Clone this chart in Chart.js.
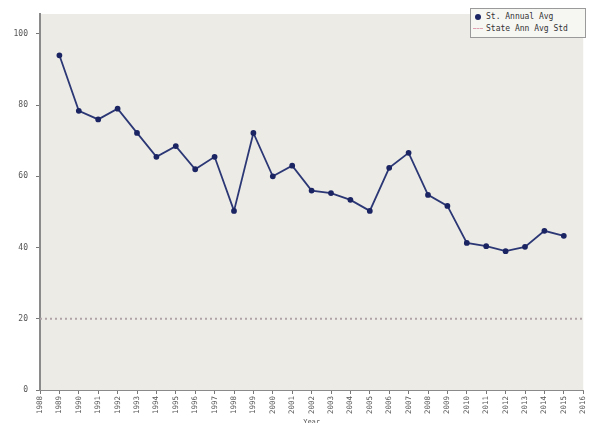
<!DOCTYPE html>
<html>
<head>
<meta charset="utf-8">
<script src="https://cdn.jsdelivr.net/npm/chart.js@4"></script>
<style>
  body { margin: 0; background: #ffffff; }
  #wrap { position: relative; width: 589px; height: 423px; }
  #legend {
    position: absolute; left: 470px; top: 8px; width: 116px;
    border: 1px solid #9a9a9a; background: #f6f6f3;
    font: 8px "DejaVu Sans Mono", monospace; color: #333;
    padding: 2px 2px; box-sizing: border-box;
  }
  #legend div { height: 12px; line-height: 12px; white-space: nowrap; }
  #legend span.sw { display: inline-block; width: 10px; vertical-align: middle; margin-right: 3px; }
</style>
</head>
<body>
<div id="wrap">
  <canvas id="myChart" width="589" height="423"></canvas>
  <div id="legend"></div>
</div>
<script>
// values
var years = [1989, 1990, 1991, 1992, 1993, 1994, 1995, 1996, 1997, 1998, 1999, 2000, 2001, 2002,
  2003, 2004, 2005, 2006, 2007, 2008, 2009, 2010, 2011, 2012, 2013, 2014, 2015];
var annualAvg = [94, 78.4, 76, 79, 72.2, 65.5, 68.5, 62, 65.5, 50.3, 72.2, 60, 63, 56,
  55.3, 53.4, 50.3, 62.4, 66.6, 54.8, 51.7, 41.3, 40.4, 39, 40.2, 44.7, 43.3];
var stateYears = [1988, 2016];
var stateStd = [20, 20];
var yTicks = [0, 20, 40, 60, 80, 100];
var xTicks = [];
for (var y = 1988; y <= 2016; y++) xTicks.push(y);

var lineColor = '#2c3875';
var stdColor = '#b0a4a8';

// plot area background
var plotBg = {
  id: 'plotBg',
  beforeDraw: function(chart) {
    var a = chart.chartArea, c = chart.ctx;
    c.save();
    c.fillStyle = '#ecebe6';
    c.fillRect(a.left, a.top, a.right - a.left, a.bottom - a.top);
    c.restore();
  }
};

var ctx = document.getElementById('myChart').getContext('2d');
var myChart = new Chart(ctx, {
  type: 'line',
  data: {
    datasets: [{
        label: 'St. Annual Avg',
        data: years.map(function(v, i) { return { x: v, y: annualAvg[i] }; }),
        borderColor: lineColor,
        backgroundColor: lineColor,
        borderWidth: 1.8,
        pointRadius: 2,
        pointBackgroundColor: '#1c2563',
        pointBorderColor: '#1c2563',
        fill: false,
        tension: 0
      },
      {
        label: 'State Ann Avg Std',
        data: stateYears.map(function(v, i) { return { x: v, y: stateStd[i] }; }),
        borderColor: stdColor,
        borderWidth: 2,
        borderDash: [2, 3],
        pointRadius: 0,
        fill: false
      }
    ]
  },
  options: {
    responsive: false,
    animation: false,
    layout: { padding: { top: 14, right: 1, left: 0, bottom: 0 } },
    plugins: {
      legend: { display: false },
      tooltip: { enabled: false }
    },
    scales: {
      x: {
        type: 'linear',
        min: 1988,
        max: 2016,
        afterBuildTicks: function(s) { s.ticks = xTicks.map(function(v) { return { value: v }; }); },
        afterFit: function(s) { s.height = 33; s.paddingRight = 0; s.paddingLeft = 0; },
        ticks: {
          autoSkip: false,
          minRotation: 90,
          maxRotation: 90,
          font: { family: 'DejaVu Sans Mono', size: 7.5 },
          color: '#555',
          padding: 2,
          callback: function(v) { return String(v); }
        },
        grid: { drawOnChartArea: false, tickLength: 4, color: '#777' },
        border: { color: '#8a8a8a', width: 1 },
        title: {
          display: true,
          text: 'Year',
          font: { family: 'DejaVu Sans Mono', size: 7 },
          color: '#555',
          padding: { top: 0, bottom: -3 }
        }
      },
      y: {
        min: 0,
        max: 105.6,
        afterBuildTicks: function(s) { s.ticks = yTicks.map(function(v) { return { value: v }; }); },
        afterFit: function(s) { s.width = 40; },
        ticks: {
          font: { family: 'DejaVu Sans Mono', size: 8 },
          color: '#555',
          padding: 8
        },
        grid: { drawOnChartArea: false, tickLength: 4, color: '#777' },
        border: { color: '#8a8a8a', width: 2 }
      }
    }
  },
  plugins: [plotBg]
});

// html legend built from the datasets
var legend = document.getElementById('legend');
myChart.data.datasets.forEach(function(ds, i) {
  var row = document.createElement('div');
  var sw = document.createElement('span');
  sw.className = 'sw';
  if (i === 0) {
    sw.style.height = '6px';
    sw.style.width = '6px';
    sw.style.borderRadius = '50%';
    sw.style.background = '#1c2563';
    sw.style.margin = '0 5px 0 2px';
  } else {
    sw.style.borderTop = '1px dashed #e0a0b0';
  }
  row.appendChild(sw);
  row.appendChild(document.createTextNode(ds.label));
  legend.appendChild(row);
});
</script>
</body>
</html>
